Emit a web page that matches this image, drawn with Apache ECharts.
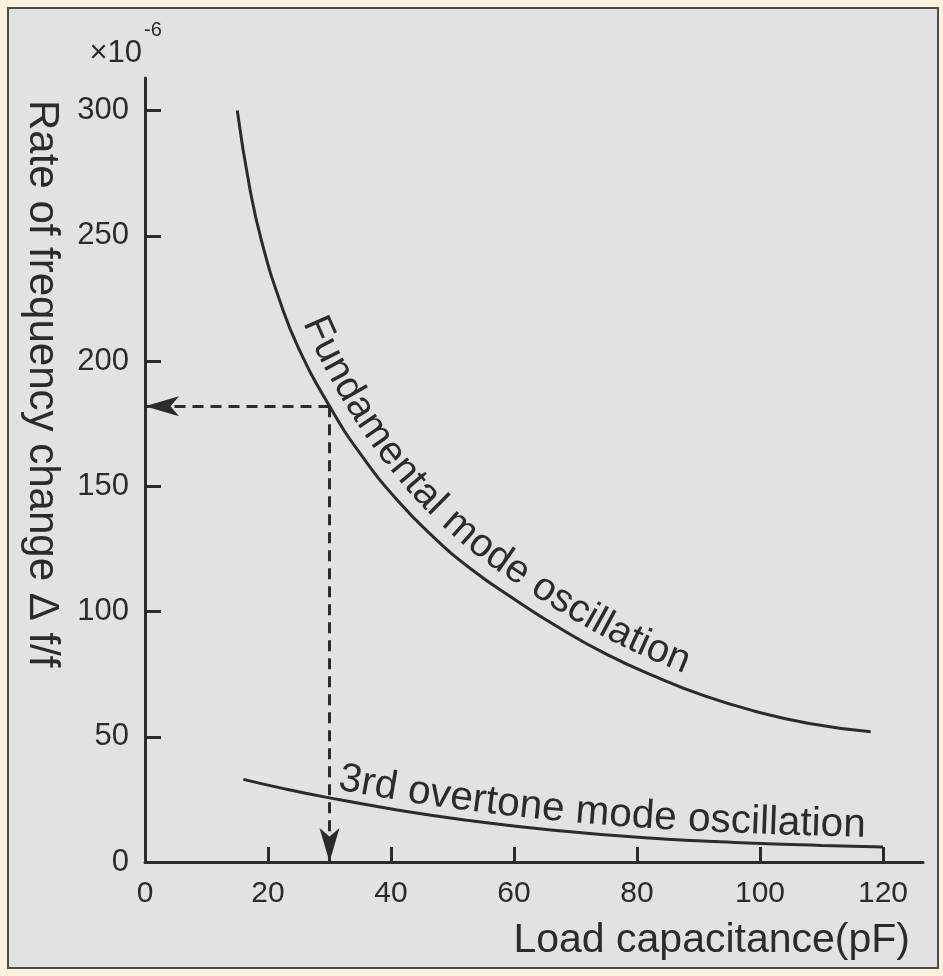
<!DOCTYPE html>
<html>
<head>
<meta charset="utf-8">
<script src="https://cdn.jsdelivr.net/npm/echarts@6/dist/echarts.min.js"></script>
<style>
  html, body { margin: 0; padding: 0; background: #fcf2dc; }
  #panel {
    position: absolute; left: 7px; top: 7px; width: 932px; height: 962px;
    box-sizing: border-box; border: 2px solid #4a4a4a; background: #e1e2e2;
  }
  #chart { position: absolute; left: 0; top: 0; width: 943px; height: 976px; }
</style>
</head>
<body>
<div id="panel"></div>
<div id="chart"></div>
<script>
// load capacitance (pF) vs. rate of frequency change (x10^-6)
const fundX = [15, 17, 19, 22, 25, 30, 35, 41, 47, 53, 60, 67, 75, 83, 91, 99, 108, 118];
const fundY = [300, 269.5, 247.5, 223.5, 205, 182, 163, 144.5, 129.5, 117, 105, 94, 83, 74, 66.3, 60.3, 55.3, 52];
const overX = [16, 22, 30, 41, 52, 66, 82, 98, 110, 120];
const overY = [33, 29.6, 25.6, 20.8, 16.8, 12.8, 9.6, 7.6, 6.6, 6];

// the read-off example: 30 pF -> 182
const pickX = 30;
const pickY = 182;

const xTicks = [0, 20, 40, 60, 80, 100, 120];
const yTicks = [0, 50, 100, 150, 200, 250, 300];

const fundLabel = 'Fundamental mode oscillation';
const overLabel = '3rd overtone mode oscillation';

const INK = '#2b2b2b';
const FONT = "'Liberation Sans', Arial, sans-serif";

const chart = echarts.init(document.getElementById('chart'), null, { renderer: 'canvas' });

const toPairs = (xs, ys) => xs.map((x, i) => [x, ys[i]]);

chart.setOption({
  animation: false,
  backgroundColor: 'transparent',
  grid: { left: 145, right: 20, top: 78, bottom: 114 },
  xAxis: {
    type: 'value', min: 0, max: 126.5,
    axisLine: { lineStyle: { color: INK, width: 3 } },
    axisTick: { inside: true, length: 15, customValues: xTicks, lineStyle: { color: INK, width: 3 } },
    axisLabel: { customValues: xTicks, fontSize: 30, color: INK, fontFamily: FONT, margin: 17 },
    splitLine: { show: false }
  },
  yAxis: {
    type: 'value', min: 0, max: 313,
    axisLine: { show: true, lineStyle: { color: INK, width: 3 } },
    axisTick: { show: true, inside: true, length: 16, customValues: yTicks, lineStyle: { color: INK, width: 3 } },
    axisLabel: { customValues: yTicks, fontSize: 31, color: INK, fontFamily: FONT, margin: 16 },
    splitLine: { show: false }
  },
  series: [
    {
      name: 'Fundamental', type: 'line', smooth: true, showSymbol: false,
      lineStyle: { color: INK, width: 3 },
      data: toPairs(fundX, fundY),
      markLine: {
        silent: true,
        symbol: 'none',
        label: { show: false },
        lineStyle: { color: INK, width: 3, type: [11, 7] },
        data: [
          [{ coord: [pickX, pickY] }, { coord: [0, pickY] }],
          [{ coord: [pickX, pickY] }, { coord: [pickX, 0] }]
        ]
      }
    },
    {
      name: '3rd overtone', type: 'line', smooth: true, showSymbol: false,
      lineStyle: { color: INK, width: 3 },
      data: toPairs(overX, overY)
    },
    {
      name: 'arrows', type: 'scatter', silent: true,
      symbol: 'arrow', symbolSize: [15, 34],
      itemStyle: { color: INK, opacity: 1 },
      data: [
        { value: [0, pickY], symbolRotate: 90 },
        { value: [pickX, 0], symbolRotate: 180 }
      ]
    }
  ]
});

// ---- text that follows a curve ----
const measure = document.createElement('canvas').getContext('2d');

function densify(pts) {
  const out = [];
  for (let i = 0; i < pts.length - 1; i++) {
    const p0 = pts[Math.max(i - 1, 0)], p1 = pts[i], p2 = pts[i + 1], p3 = pts[Math.min(i + 2, pts.length - 1)];
    for (let k = 0; k < 20; k++) {
      const t = k / 20, t2 = t * t, t3 = t2 * t;
      out.push([0, 1].map(j => 0.5 * ((2 * p1[j]) + (-p0[j] + p2[j]) * t +
        (2 * p0[j] - 5 * p1[j] + 4 * p2[j] - p3[j]) * t2 + (-p0[j] + 3 * p1[j] - 3 * p2[j] + p3[j]) * t3)));
    }
  }
  out.push(pts[pts.length - 1]);
  return out;
}

function curveText(xs, ys, text, startX, offset, fontSize) {
  const base = densify(xs.map((x, i) => chart.convertToPixel({ gridIndex: 0 }, [x, ys[i]])));
  // shift the path to the upper side of the curve
  const path = base.map((p, i) => {
    const a = base[Math.max(i - 1, 0)], b = base[Math.min(i + 1, base.length - 1)];
    const th = Math.atan2(b[1] - a[1], b[0] - a[0]);
    return [p[0] + Math.sin(th) * offset, p[1] - Math.cos(th) * offset];
  });
  const cum = [0];
  for (let i = 1; i < path.length; i++) {
    cum.push(cum[i - 1] + Math.hypot(path[i][0] - path[i - 1][0], path[i][1] - path[i - 1][1]));
  }
  const at = s => {
    let i = 1;
    while (i < path.length - 1 && cum[i] < s) i++;
    const f = (s - cum[i - 1]) / (cum[i] - cum[i - 1] || 1);
    return {
      x: path[i - 1][0] + (path[i][0] - path[i - 1][0]) * f,
      y: path[i - 1][1] + (path[i][1] - path[i - 1][1]) * f,
      th: Math.atan2(path[i][1] - path[i - 1][1], path[i][0] - path[i - 1][0])
    };
  };
  const startPx = chart.convertToPixel({ gridIndex: 0 }, [startX, 0])[0];
  let idx = base.findIndex(p => p[0] >= startPx);
  let s = cum[idx];
  const font = fontSize + 'px ' + FONT;
  measure.font = font;
  const els = [];
  for (const ch of text) {
    const w = measure.measureText(ch).width;
    const p = at(s);
    const th = at(s + w / 2).th;
    els.push({
      type: 'text', x: p.x, y: p.y, rotation: -th, silent: true,
      style: { text: ch, font: font, fill: INK, align: 'left', verticalAlign: 'middle' }
    });
    s += w;
  }
  return els;
}

const graphics = [
  {
    type: 'text', x: 42, y: 100, rotation: -Math.PI / 2,
    style: { text: 'Rate of frequency change \u0394 f/f', font: '42px ' + FONT, fill: INK, align: 'left', verticalAlign: 'middle' }
  },
  {
    type: 'text', x: 910, y: 941,
    style: { text: 'Load capacitance(pF)', font: '41px ' + FONT, fill: INK, align: 'right', verticalAlign: 'middle' }
  },
  {
    type: 'text', x: 142, y: 53,
    style: { text: '\u00d710', font: '31px ' + FONT, fill: INK, align: 'right', verticalAlign: 'middle' }
  },
  {
    type: 'text', x: 144, y: 30,
    style: { text: '-6', font: '20px ' + FONT, fill: INK, align: 'left', verticalAlign: 'middle' }
  }
].concat(
  curveText(fundX, fundY, fundLabel, 23.5, 25, 39.5),
  curveText(overX, overY, overLabel, 30.5, 21, 40.5)
);

chart.setOption({ graphic: graphics });
</script>
</body>
</html>
